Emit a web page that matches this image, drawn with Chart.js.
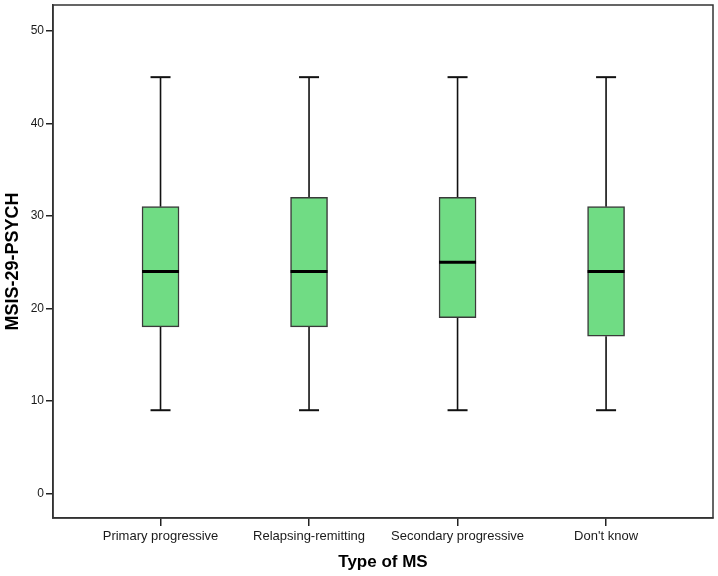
<!DOCTYPE html>
<html>
<head>
<meta charset="utf-8">
<script src="https://cdn.jsdelivr.net/npm/chart.js@4"></script>
<style>
html,body{margin:0;padding:0;background:#fff;}
#wrap{width:718px;height:576px;}
</style>
</head>
<body>
<div id="wrap"><canvas id="c" width="718" height="576"></canvas></div>
<script>
const categories = ['Primary progressive', 'Relapsing-remitting', 'Secondary progressive', "Don't know"];
const whiskerLow = [9, 9, 9, 9];
const quartile1 = [18, 18, 19, 17];
const medians = [24, 24, 25, 24];
const quartile3 = [31, 32, 32, 31];
const whiskerHigh = [45, 45, 45, 45];
const yTickValues = [0, 10, 20, 30, 40, 50];

const positions = categories.map((_, i) => i + 1);

const boxData = positions.map((x, i) => ({x: x, y: [quartile1[i], quartile3[i]]}));
const whiskerData = [];
positions.forEach((x, i) => {
  whiskerData.push({x: x, y: whiskerLow[i]}, {x: x, y: quartile1[i]}, {x: x, y: null});
  whiskerData.push({x: x, y: quartile3[i]}, {x: x, y: whiskerHigh[i]}, {x: x, y: null});
});
const capData = [];
positions.forEach((x, i) => {
  capData.push({x: x, y: whiskerLow[i]}, {x: x, y: whiskerHigh[i]});
});
const medianData = positions.map((x, i) => ({x: x, y: medians[i]}));

const framePlugin = {
  id: 'frame',
  afterDraw(chart) {
    const a = chart.chartArea, ctx = chart.ctx;
    ctx.save();
    ctx.strokeStyle = '#333';
    ctx.lineWidth = 1.5;
    ctx.strokeRect(a.left, a.top, a.right - a.left, a.bottom - a.top);
    ctx.restore();
  }
};

const font = 'Liberation Sans, Arial, sans-serif';

new Chart(document.getElementById('c'), {
  type: 'bar',
  data: {
    datasets: [
      {
        type: 'bar',
        data: boxData,
        backgroundColor: '#70dc84',
        borderColor: '#3a3a3a',
        borderWidth: 1.5,
        borderSkipped: false,
        barThickness: 37,
        order: 3
      },
      {
        type: 'line',
        data: whiskerData,
        borderColor: '#111',
        borderWidth: 1.6,
        pointRadius: 0,
        spanGaps: false,
        fill: false,
        order: 4
      },
      {
        type: 'line',
        data: capData,
        showLine: false,
        pointStyle: 'line',
        pointRadius: 10,
        pointBorderWidth: 2,
        pointBorderColor: '#111',
        pointBackgroundColor: '#111',
        order: 2
      },
      {
        type: 'line',
        data: medianData,
        showLine: false,
        pointStyle: 'line',
        pointRadius: 18.5,
        pointBorderWidth: 3,
        pointBorderColor: '#000',
        pointBackgroundColor: '#000',
        order: 1
      }
    ]
  },
  options: {
    responsive: false,
    animation: false,
    events: [],
    layout: {autoPadding: false, padding: {top: 5, right: 5, left: 0, bottom: 0}},
    plugins: {legend: {display: false}, tooltip: {enabled: false}},
    scales: {
      x: {
        type: 'linear',
        min: 0.276,
        max: 4.72,
        offset: false,
        afterBuildTicks(scale) { scale.ticks = positions.map(v => ({value: v})); },
        afterFit(scale) { scale.height = 58; scale.paddingLeft = 0; scale.paddingRight = 0; },
        ticks: {
          callback: (v) => categories[Math.round(v) - 1] || '',
          color: '#1a1a1a',
          font: {family: font, size: 13},
          padding: 3,
          maxRotation: 0,
          autoSkip: false
        },
        grid: {display: true, drawOnChartArea: false, drawTicks: true, tickLength: 8, color: '#222', lineWidth: 1.5, offset: false},
        border: {display: true, color: '#333', width: 1.5},
        title: {display: true, text: 'Type of MS', color: '#000', font: {family: font, size: 17, weight: 'bold', lineHeight: 1.2}, padding: {top: 0, bottom: 3.5}}
      },
      y: {
        type: 'linear',
        min: -2.65,
        max: 52.8,
        afterBuildTicks(scale) { scale.ticks = yTickValues.map(v => ({value: v})); },
        afterFit(scale) { scale.width = 53; scale.paddingTop = 0; scale.paddingBottom = 0; },
        ticks: {
          color: '#1a1a1a',
          font: {family: font, size: 12},
          padding: 2
        },
        grid: {display: true, drawOnChartArea: false, drawTicks: true, tickLength: 7, color: '#222', lineWidth: 1.5},
        border: {display: true, color: '#333', width: 1.5},
        title: {display: true, text: 'MSIS-29-PSYCH', color: '#000', font: {family: font, size: 18, weight: 'bold', lineHeight: 1.2}, padding: {top: 2, bottom: 0}}
      }
    }
  },
  plugins: [framePlugin]
});
</script>
</body>
</html>
